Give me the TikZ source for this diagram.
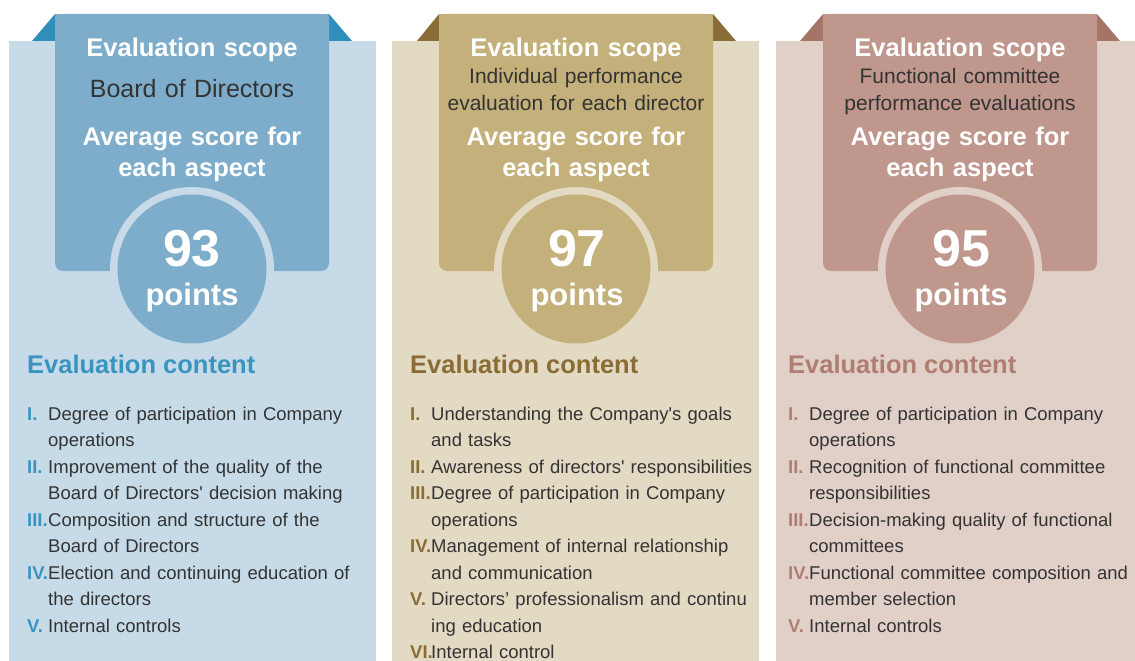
\documentclass[tikz,border=0pt]{standalone}
\usepackage{fontspec}
\setmainfont{Liberation Sans}
\definecolor{bgA}{HTML}{C6DAE8}
\definecolor{ribA}{HTML}{7EADCB}
\definecolor{dkA}{HTML}{2F8FBA}
\definecolor{hdA}{HTML}{3A94C0}
\definecolor{bgB}{HTML}{E3DAC4}
\definecolor{ribB}{HTML}{C4B07A}
\definecolor{dkB}{HTML}{8A6D36}
\definecolor{hdB}{HTML}{8A6D36}
\definecolor{bgC}{HTML}{E1D0C8}
\definecolor{ribC}{HTML}{BF978D}
\definecolor{dkC}{HTML}{A57466}
\definecolor{hdC}{HTML}{B07D71}
\definecolor{txtgray}{HTML}{333333}
\newcommand{\rnum}[2]{\makebox[21pt][l]{\bfseries\color{#1}#2}}
\newcommand{\rind}{\hspace*{21pt}}

\begin{document}
\begin{tikzpicture}[x=1pt, y=-1pt,
  every node/.style={inner sep=0pt},
  headtxt/.style={anchor=base, text=white, text width=280pt, align=center,
    font=\bfseries\fontsize{25.5}{31}\selectfont},
  scopetxt/.style={anchor=base, text=txtgray, text width=280pt, align=center,
    font=\fontsize{21}{27}\selectfont},
  scorenum/.style={anchor=base, text=white, font=\bfseries\fontsize{52}{60}\selectfont},
  scorepts/.style={anchor=base, text=white, font=\bfseries\fontsize{31}{36}\selectfont},
  contenthead/.style={anchor=base west, font=\bfseries\fontsize{25.5}{31}\selectfont},
  itemlist/.style={anchor=base west, text=txtgray, text width=345pt, align=left,
    font=\fontsize{18.5}{26.5}\selectfont}]
  \useasboundingbox (0,0) rectangle (1135,661);

  % Panel 1
  \fill[bgA] (9,41) rectangle (376,661);
  \fill[dkA] (32,41) -- (55,14) -- (55,41) -- cycle;
  \fill[dkA] (329,14) -- (352,41) -- (329,41) -- cycle;
  \fill[ribA, rounded corners=8pt] (55,14) rectangle (329,271);
  \fill[ribA] (55,14) rectangle (329,40);
  \fill[bgA] (192,269) circle (82pt);
  \fill[ribA] (192,269) circle (74.5pt);
  \node[headtxt] (scope1) at (192,57) {Evaluation scope};
  \node[scopetxt, font=\fontsize{25}{30}\selectfont] (desc1) at (192,97) {Board of Directors};
  \node[headtxt] (avg1) at (192,145) {Average score for\\each aspect};
  \node[scorenum] (score1) at (192,266) {93};
  \node[scorepts] (pts1) at (192,305) {points};
  \node[contenthead, text=hdA] (content1) at (27,373) {Evaluation content};
  \node[itemlist] (list1) at (27,420) {%
    \rnum{hdA}{I.}Degree of participation in Company\\
    \rind operations\\
    \rnum{hdA}{II.}Improvement of the quality of the\\
    \rind Board of Directors\textquotesingle\ decision making\\
    \rnum{hdA}{III.}Composition and structure of the\\
    \rind Board of Directors\\
    \rnum{hdA}{IV.}Election and continuing education of\\
    \rind the directors\\
    \rnum{hdA}{V.}Internal controls};

  % Panel 2
  \fill[bgB] (392,41) rectangle (759,661);
  \fill[dkB] (417,41) -- (439,14) -- (439,41) -- cycle;
  \fill[dkB] (713,14) -- (736,41) -- (713,41) -- cycle;
  \fill[ribB, rounded corners=8pt] (439,14) rectangle (713,271);
  \fill[ribB] (439,14) rectangle (713,40);
  \fill[bgB] (576,269) circle (82pt);
  \fill[ribB] (576,269) circle (74.5pt);
  \node[headtxt] (scope2) at (576,57) {Evaluation scope};
  \node[scopetxt] (desc2) at (576,84) {Individual performance\\evaluation for each director};
  \node[headtxt] (avg2) at (576,145) {Average score for\\each aspect};
  \node[scorenum] (score2) at (577,266) {97};
  \node[scorepts] (pts2) at (577,305) {points};
  \node[contenthead, text=hdB] (content2) at (410,373) {Evaluation content};
  \node[itemlist] (list2) at (410,420) {%
    \rnum{hdB}{I.}Understanding the Company\textquotesingle s goals\\
    \rind and tasks\\
    \rnum{hdB}{II.}Awareness of directors\textquotesingle\ responsibilities\\
    \rnum{hdB}{III.}Degree of participation in Company\\
    \rind operations\\
    \rnum{hdB}{IV.}Management of internal relationship\\
    \rind and communication\\
    \rnum{hdB}{V.}Directors’ professionalism and continu\\
    \rind ing education\\
    \rnum{hdB}{VI.}Internal control};

  % Panel 3
  \fill[bgC] (776,41) rectangle (1135,661);
  \fill[dkC] (800,41) -- (823,14) -- (823,41) -- cycle;
  \fill[dkC] (1097,14) -- (1120,41) -- (1097,41) -- cycle;
  \fill[ribC, rounded corners=8pt] (823,14) rectangle (1097,271);
  \fill[ribC] (823,14) rectangle (1097,40);
  \fill[bgC] (960,269) circle (82pt);
  \fill[ribC] (960,269) circle (74.5pt);
  \node[headtxt] (scope3) at (960,57) {Evaluation scope};
  \node[scopetxt] (desc3) at (960,84) {Functional committee\\performance evaluations};
  \node[headtxt] (avg3) at (960,145) {Average score for\\each aspect};
  \node[scorenum] (score3) at (961,266) {95};
  \node[scorepts] (pts3) at (961,305) {points};
  \node[contenthead, text=hdC] (content3) at (788,373) {Evaluation content};
  \node[itemlist] (list3) at (788,420) {%
    \rnum{hdC}{I.}Degree of participation in Company\\
    \rind operations\\
    \rnum{hdC}{II.}Recognition of functional committee\\
    \rind responsibilities\\
    \rnum{hdC}{III.}Decision-making quality of functional\\
    \rind committees\\
    \rnum{hdC}{IV.}Functional committee composition and\\
    \rind member selection\\
    \rnum{hdC}{V.}Internal controls};
\end{tikzpicture}
\end{document}
